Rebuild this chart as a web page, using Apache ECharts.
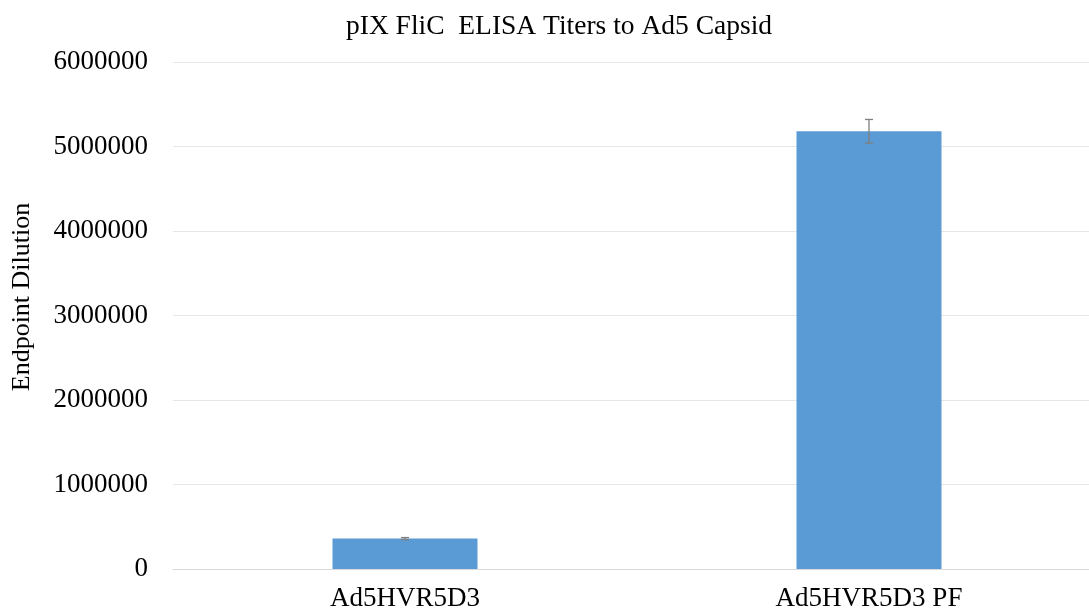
<!DOCTYPE html>
<html><head><meta charset="utf-8">
<script src="https://cdn.jsdelivr.net/npm/echarts@6/dist/echarts.min.js"></script>
<style>html,body{margin:0;padding:0;background:#fff}#c{width:1089px;height:614px}</style>
</head><body><div id="c"></div>
<script>
const categories = ['Ad5HVR5D3', 'Ad5HVR5D3 PF'];
const values = [360000, 5180000];
const errors = [12000, 140000];
const yTicks = [0, 1000000, 2000000, 3000000, 4000000, 5000000, 6000000];
const yAxisTitle = 'Endpoint Dilution';

const chart = echarts.init(document.getElementById('c'));
const font = '"Liberation Serif", "Times New Roman", serif';
chart.setOption({
  animation: false,
  title: { text: 'pIX FliC  ELISA Titers to Ad5 Capsid', left: 554, top: 8, textAlign: 'center',
    textStyle: { fontFamily: font, fontSize: 27.5, fontWeight: 'normal', color: '#000' } },
  grid: { left: 173, width: 928, top: 62, bottom: 45, outerBoundsMode: 'none', containLabel: false },
  graphic: [{ type: 'text', x: 22, y: 297, rotation: Math.PI / 2,
    style: { text: yAxisTitle, font: '26px ' + font, fill: '#000', align: 'center', verticalAlign: 'middle' } }],
  xAxis: { type: 'category', data: categories,
    axisLine: { lineStyle: { color: '#d9d9d9' } }, axisTick: { show: false },
    axisLabel: { fontFamily: font, fontSize: 27, color: '#000', margin: 16 } },
  yAxis: { type: 'value', min: yTicks[0], max: yTicks[yTicks.length - 1], interval: 1000000,
    axisLine: { show: false }, axisTick: { show: false },
    axisLabel: { fontFamily: font, fontSize: 27, color: '#000', margin: 25,
      formatter: v => String(v) },
    splitLine: { lineStyle: { color: '#e6e6e6' } } },
  series: [
    { type: 'bar', data: values, barWidth: 145, itemStyle: { color: '#5B9BD5' } },
    { type: 'custom', data: values.map((v, i) => [i, v - errors[i], v + errors[i]]),
      renderItem: function (params, api) {
        const lo = api.coord([api.value(0), api.value(1)]);
        const hi = api.coord([api.value(0), api.value(2)]);
        const w = 8;
        const st = { stroke: '#7f7f7f', lineWidth: 1.3 };
        return { type: 'group', children: [
          { type: 'line', shape: { x1: hi[0], y1: hi[1], x2: lo[0], y2: lo[1] }, style: st },
          { type: 'line', shape: { x1: hi[0] - w / 2, y1: hi[1], x2: hi[0] + w / 2, y2: hi[1] }, style: st },
          { type: 'line', shape: { x1: lo[0] - w / 2, y1: lo[1], x2: lo[0] + w / 2, y2: lo[1] }, style: st }
        ] };
      }, z: 10 }
  ]
});
</script></body></html>
